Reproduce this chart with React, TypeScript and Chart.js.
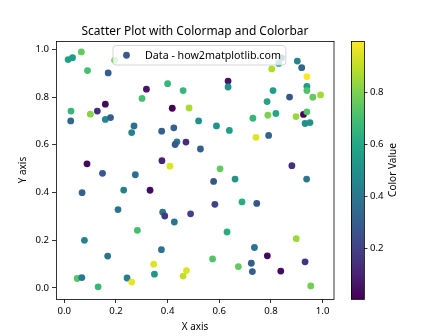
import React, { useEffect, useRef } from 'react';
import { Chart, registerables } from 'chart.js';

Chart.register(...registerables);

const titleText = 'Scatter Plot with Colormap and Colorbar';
const xLabel = 'X axis';
const yLabel = 'Y axis';
const cbarLabel = 'Color Value';
const legendLabel = 'Data - how2matplotlib.com';

const xValues = [
  0.015, 0.032, 0.066, 0.195, 0.090, 0.170, 0.318, 0.400, 0.460, 0.301,
  0.026, 0.159, 0.101, 0.128, 0.025, 0.159, 0.179, 0.418, 0.483, 0.520,
  0.270, 0.261, 0.377, 0.424, 0.436, 0.429, 0.471, 0.527, 0.088, 0.378,
  0.409, 0.841, 0.830, 0.803, 0.902, 0.919, 0.939, 0.634, 0.634, 0.939,
  0.939, 0.808, 0.872, 0.962, 0.992, 0.785, 0.730, 0.788, 0.819, 0.897,
  0.926, 0.939, 0.932, 0.951, 0.589, 0.639, 0.742, 0.791, 0.881, 0.603,
  0.578, 0.661, 0.938, 0.583, 0.688, 0.745, 0.489, 0.630, 0.898, 0.736,
  0.786, 0.574, 0.674, 0.724, 0.728, 0.932, 0.838, 0.954, 0.148, 0.275,
  0.069, 0.230, 0.332, 0.208, 0.381, 0.389, 0.426, 0.283, 0.078, 0.376,
  0.168, 0.346, 0.473, 0.460, 0.050, 0.068, 0.243, 0.261, 0.349, 0.131,
];

const yValues = [
  0.957, 0.965, 0.989, 0.954, 0.911, 0.901, 0.833, 0.856, 0.827, 0.794,
  0.741, 0.770, 0.728, 0.741, 0.700, 0.706, 0.714, 0.753, 0.754, 0.700,
  0.679, 0.651, 0.657, 0.671, 0.612, 0.601, 0.611, 0.582, 0.520, 0.533,
  0.510, 0.964, 0.941, 0.918, 0.951, 0.923, 0.886, 0.867, 0.842, 0.845,
  0.827, 0.827, 0.800, 0.799, 0.809, 0.781, 0.711, 0.724, 0.731, 0.718,
  0.727, 0.738, 0.689, 0.693, 0.679, 0.660, 0.631, 0.639, 0.512, 0.499,
  0.446, 0.456, 0.456, 0.350, 0.360, 0.354, 0.310, 0.234, 0.206, 0.169,
  0.134, 0.121, 0.089, 0.103, 0.068, 0.109, 0.070, 0.008, 0.480, 0.474,
  0.399, 0.410, 0.409, 0.328, 0.317, 0.301, 0.276, 0.241, 0.199, 0.160,
  0.133, 0.099, 0.072, 0.049, 0.039, 0.043, 0.041, 0.024, 0.057, 0.004,
];

const colorValues = [
  0.57, 0.55, 0.76, 0.78, 0.70, 0.30, 0.06, 0.66, 0.66, 0.70,
  0.66, 0.03, 0.82, 0.13, 0.34, 0.46, 0.30, 0.004, 0.87, 0.50,
  0.36, 0.44, 0.30, 0.31, 0.40, 0.28, 0.13, 0.30, 0.02, 0.10,
  0.95, 0.32, 0.60, 0.88, 0.45, 0.33, 0.998, 0.06, 0.50, 0.55,
  0.72, 0.55, 0.27, 0.76, 0.86, 0.58, 0.66, 0.80, 0.60, 0.84,
  0.02, 0.73, 0.50, 0.50, 0.50, 0.56, 0.95, 0.33, 0.14, 0.76,
  0.27, 0.52, 0.40, 0.20, 0.62, 0.27, 0.20, 0.62, 0.85, 0.38,
  0.03, 0.73, 0.76, 0.30, 0.30, 0.15, 0.03, 0.78, 0.27, 0.36,
  0.32, 0.43, 0.03, 0.38, 0.38, 0.17, 0.38, 0.70, 0.45, 0.38,
  0.38, 0.95, 0.95, 0.90, 0.73, 0.40, 0.42, 0.96, 0.52, 0.66,
];

const xTicks = [0.0, 0.2, 0.4, 0.6, 0.8, 1.0];
const yTicks = [0.0, 0.2, 0.4, 0.6, 0.8, 1.0];
const cbarTicks = [0.2, 0.4, 0.6, 0.8];

const VIRIDIS: number[][] = [
  [68, 1, 84], [72, 36, 117], [65, 68, 135], [53, 95, 141], [42, 120, 142],
  [33, 145, 140], [34, 168, 132], [68, 191, 112], [122, 209, 81], [189, 223, 38],
  [253, 231, 37],
];

function viridis(t: number): string {
  const c = Math.max(0, Math.min(1, t)) * (VIRIDIS.length - 1);
  const i = Math.min(VIRIDIS.length - 2, Math.floor(c));
  const f = c - i;
  const a = VIRIDIS[i];
  const b = VIRIDIS[i + 1];
  const r = Math.round(a[0] + (b[0] - a[0]) * f);
  const g = Math.round(a[1] + (b[1] - a[1]) * f);
  const bl = Math.round(a[2] + (b[2] - a[2]) * f);
  return `rgb(${r},${g},${bl})`;
}

const FONT = "'Noto Sans', sans-serif";

function fitFont(ctx: CanvasRenderingContext2D, text: string, target: number): string {
  ctx.font = `10px ${FONT}`;
  const w = ctx.measureText(text).width;
  const size = (10 * target) / w;
  return `${size.toFixed(2)}px ${FONT}`;
}

export default function App() {
  const ref = useRef<HTMLCanvasElement | null>(null);

  useEffect(() => {
    document.body.style.margin = '0';
    const canvas = ref.current;
    if (!canvas) return;
    const cmin = Math.min(...colorValues);
    const cmax = Math.max(...colorValues);
    const norm = (v: number) => (v - cmin) / (cmax - cmin);
    const pts = xValues.map((x, i) => ({ x, y: yValues[i] }));
    const colors = colorValues.map((v) => viridis(norm(v)));

    const decor = {
      id: 'decor',
      afterDatasetsDraw(chart: any) {
        const { ctx, chartArea } = chart;
        const { left, right, top, bottom } = chartArea;
        ctx.save();
        // frame
        ctx.strokeStyle = '#000';
        ctx.lineWidth = 0.8;
        ctx.strokeRect(Math.round(left) + 0.5, Math.round(top) + 0.5, Math.round(right - left) - 0.5, Math.round(bottom - top));

        // legend
        ctx.font = fitFont(ctx, legendLabel, 136);
        const tw = ctx.measureText(legendLabel).width;
        const lx = left + 57;
        const ly = top + 4.5;
        const lw = 32 + tw + 5;
        const lh = 19.5;
        ctx.beginPath();
        const r = 3;
        ctx.moveTo(lx + r, ly);
        ctx.lineTo(lx + lw - r, ly);
        ctx.arcTo(lx + lw, ly, lx + lw, ly + r, r);
        ctx.lineTo(lx + lw, ly + lh - r);
        ctx.arcTo(lx + lw, ly + lh, lx + lw - r, ly + lh, r);
        ctx.lineTo(lx + r, ly + lh);
        ctx.arcTo(lx, ly + lh, lx, ly + lh - r, r);
        ctx.lineTo(lx, ly + r);
        ctx.arcTo(lx, ly, lx + r, ly, r);
        ctx.closePath();
        ctx.fillStyle = 'rgba(255,255,255,0.8)';
        ctx.fill();
        ctx.strokeStyle = 'rgba(204,204,204,0.8)';
        ctx.lineWidth = 1;
        ctx.stroke();
        ctx.beginPath();
        ctx.arc(lx + 13.5, ly + lh / 2, 3.4, 0, Math.PI * 2);
        ctx.fillStyle = 'rgb(59,89,140)';
        ctx.fill();
        ctx.fillStyle = '#000';
        ctx.textAlign = 'left';
        ctx.textBaseline = 'middle';
        ctx.fillText(legendLabel, lx + 32, ly + lh / 2 + 0.5);

        // title
        const cx = (left + right) / 2;
        ctx.font = fitFont(ctx, titleText, 227);
        ctx.textAlign = 'center';
        ctx.textBaseline = 'alphabetic';
        ctx.fillText(titleText, cx, 35);

        // axis labels
        ctx.font = fitFont(ctx, xLabel, 26.5);
        ctx.fillText(xLabel, cx, 330);
        ctx.save();
        ctx.translate(23.3, (top + bottom) / 2);
        ctx.rotate(-Math.PI / 2);
        ctx.textBaseline = 'middle';
        ctx.fillText(yLabel, 0, 0);
        ctx.restore();

        // colorbar
        const cbL = right + 17;
        const cbR = cbL + 13;
        const grad = ctx.createLinearGradient(0, bottom, 0, top);
        VIRIDIS.forEach((c, i) => grad.addColorStop(i / (VIRIDIS.length - 1), `rgb(${c[0]},${c[1]},${c[2]})`));
        ctx.fillStyle = grad;
        ctx.fillRect(cbL, top, cbR - cbL, bottom - top);
        ctx.strokeStyle = '#000';
        ctx.lineWidth = 0.8;
        ctx.strokeRect(Math.round(cbL) + 0.5, Math.round(top) + 0.5, Math.round(cbR - cbL), Math.round(bottom - top));
        ctx.fillStyle = '#000';
        ctx.textAlign = 'left';
        ctx.textBaseline = 'middle';
        ctx.font = `9.6px ${FONT}`;
        cbarTicks.forEach((v) => {
          const y = bottom - norm(v) * (bottom - top);
          ctx.beginPath();
          ctx.moveTo(cbR, Math.round(y) + 0.5);
          ctx.lineTo(cbR + 3.5, Math.round(y) + 0.5);
          ctx.stroke();
          ctx.fillText(v.toFixed(1), cbR + 6, y);
        });
        ctx.save();
        ctx.font = fitFont(ctx, cbarLabel, 54);
        ctx.translate(cbR + 29.5, (top + bottom) / 2);
        ctx.rotate(-Math.PI / 2);
        ctx.textAlign = 'center';
        ctx.textBaseline = 'middle';
        ctx.fillText(cbarLabel, 0, 0);
        ctx.restore();
        ctx.restore();
      },
    };

    const axisCommon = {
      type: 'linear' as const,
      grid: { drawOnChartArea: false, drawTicks: true, tickLength: 4, color: '#000', lineWidth: 0.8 },
      border: { display: false },
      ticks: {
        color: '#000',
        font: { family: FONT, size: 9.6 },
        padding: 3,
        autoSkip: false,
        maxRotation: 0,
        callback: (v: any) => Number(v).toFixed(1),
      },
    };

    const chart = new Chart(canvas, {
      type: 'scatter',
      data: {
        datasets: [
          {
            label: legendLabel,
            data: pts,
            backgroundColor: colors,
            borderWidth: 0,
            pointRadius: 3.4,
            pointHoverRadius: 3.4,
          },
        ],
      },
      options: {
        animation: false,
        responsive: false,
        devicePixelRatio: 1,
        events: [],
        layout: { padding: { left: 0, right: 114, top: 41, bottom: 0 } },
        plugins: { legend: { display: false }, tooltip: { enabled: false }, title: { display: false } },
        scales: {
          x: {
            ...axisCommon,
            min: -0.032,
            max: 1.044,
            afterBuildTicks: (s: any) => { s.ticks = xTicks.map((v) => ({ value: v })); },
            afterFit: (s: any) => { s.height = 37; },
          },
          y: {
            ...axisCommon,
            min: -0.047,
            max: 1.035,
            afterBuildTicks: (s: any) => { s.ticks = yTicks.map((v) => ({ value: v })); },
            afterFit: (s: any) => { s.width = 56; },
          },
        },
      } as any,
      plugins: [decor],
    });
    return () => chart.destroy();
  }, []);

  return (
    <div style={{ width: 448, height: 336 }}>
      <canvas ref={ref} width={448} height={336} style={{ width: 448, height: 336, display: 'block' }} />
    </div>
  );
}
